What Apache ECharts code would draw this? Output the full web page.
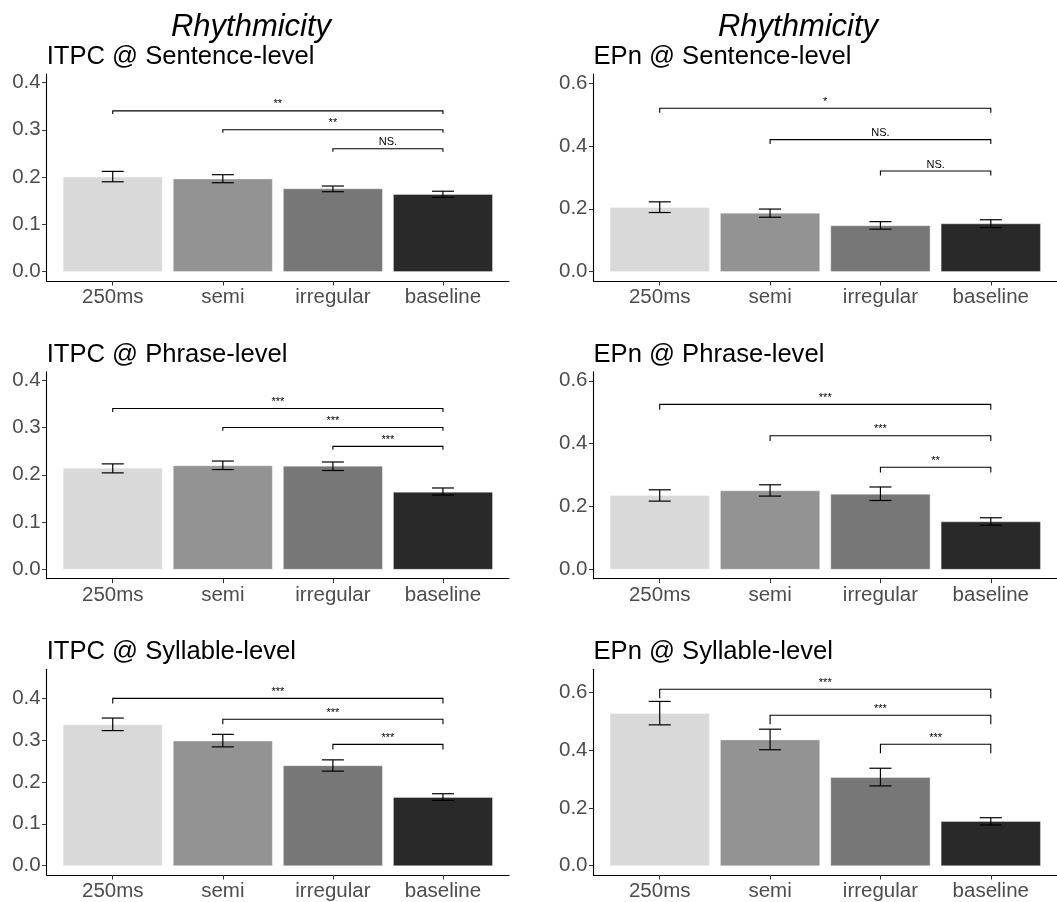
<!DOCTYPE html>
<html>
<head>
<meta charset="utf-8">
<script src="https://cdn.jsdelivr.net/npm/echarts@6/dist/echarts.min.js"></script>
<style>
  html, body { margin: 0; padding: 0; background: #fff; }
  #chart { width: 1057px; height: 902px; }
</style>
</head>
<body>
<div id="chart"></div>
<script>
// ---- data ----
const categories = ['250ms', 'semi', 'irregular', 'baseline'];
const barColors = ['#D9D9D9', '#939393', '#777777', '#292929'];

const itpcTicks = [0, 0.1, 0.2, 0.3, 0.4];
const epnTicks = [0, 0.2, 0.4, 0.6];

// ITPC @ Sentence-level
const itpcSentenceMean = [0.200, 0.196, 0.175, 0.163];
const itpcSentenceLow  = [0.190, 0.188, 0.169, 0.157];
const itpcSentenceHigh = [0.212, 0.205, 0.181, 0.170];
const itpcSentenceSig  = [[1, 4, 0.340, '**'], [2, 4, 0.300, '**'], [3, 4, 0.260, 'NS.']];

// EPn @ Sentence-level
const epnSentenceMean = [0.204, 0.186, 0.146, 0.152];
const epnSentenceLow  = [0.188, 0.173, 0.135, 0.140];
const epnSentenceHigh = [0.222, 0.199, 0.159, 0.165];
const epnSentenceSig  = [[1, 4, 0.520, '*'], [2, 4, 0.420, 'NS.'], [3, 4, 0.320, 'NS.']];

// ITPC @ Phrase-level
const itpcPhraseMean = [0.214, 0.219, 0.218, 0.163];
const itpcPhraseLow  = [0.204, 0.211, 0.209, 0.157];
const itpcPhraseHigh = [0.223, 0.229, 0.227, 0.172];
const itpcPhraseSig  = [[1, 4, 0.340, '***'], [2, 4, 0.300, '***'], [3, 4, 0.260, '***']];

// EPn @ Phrase-level
const epnPhraseMean = [0.235, 0.250, 0.239, 0.151];
const epnPhraseLow  = [0.217, 0.233, 0.219, 0.140];
const epnPhraseHigh = [0.253, 0.269, 0.262, 0.164];
const epnPhraseSig  = [[1, 4, 0.525, '***'], [2, 4, 0.425, '***'], [3, 4, 0.325, '**']];

// ITPC @ Syllable-level
const itpcSyllableMean = [0.337, 0.298, 0.239, 0.163];
const itpcSyllableLow  = [0.323, 0.284, 0.226, 0.156];
const itpcSyllableHigh = [0.353, 0.314, 0.253, 0.172];
const itpcSyllableSig  = [[1, 4, 0.400, '***'], [2, 4, 0.350, '***'], [3, 4, 0.290, '***']];

// EPn @ Syllable-level
const epnSyllableMean = [0.526, 0.435, 0.305, 0.153];
const epnSyllableLow  = [0.487, 0.401, 0.276, 0.141];
const epnSyllableHigh = [0.568, 0.472, 0.337, 0.166];
const epnSyllableSig  = [[1, 4, 0.610, '***'], [2, 4, 0.520, '***'], [3, 4, 0.420, '***']];

// ---- layout ----
const FONT = '"Liberation Sans", Arial, Helvetica, sans-serif';
const colLeft = [46.7, 593.5];
const colWidth = [462.3, 465.5];
const rowTop = [74, 371.7, 669.3];
const rowHeight = 207;
const headingX = [251, 798];

const panels = [
  { title: 'ITPC @ Sentence-level', mean: itpcSentenceMean, low: itpcSentenceLow, high: itpcSentenceHigh, sig: itpcSentenceSig, ticks: itpcTicks, yMin: -0.0199, yMax: 0.418, tip: 0.0065, col: 0, row: 0 },
  { title: 'EPn @ Sentence-level',  mean: epnSentenceMean,  low: epnSentenceLow,  high: epnSentenceHigh,  sig: epnSentenceSig,  ticks: epnTicks,  yMin: -0.030,  yMax: 0.629, tip: 0.014,  col: 1, row: 0 },
  { title: 'ITPC @ Phrase-level',   mean: itpcPhraseMean,   low: itpcPhraseLow,   high: itpcPhraseHigh,   sig: itpcPhraseSig,   ticks: itpcTicks, yMin: -0.0199, yMax: 0.418, tip: 0.007,  col: 0, row: 1 },
  { title: 'EPn @ Phrase-level',    mean: epnPhraseMean,    low: epnPhraseLow,    high: epnPhraseHigh,    sig: epnPhraseSig,    ticks: epnTicks,  yMin: -0.030,  yMax: 0.629, tip: 0.017,  col: 1, row: 1 },
  { title: 'ITPC @ Syllable-level', mean: itpcSyllableMean, low: itpcSyllableLow, high: itpcSyllableHigh, sig: itpcSyllableSig, ticks: itpcTicks, yMin: -0.0224, yMax: 0.4696, tip: 0.012, col: 0, row: 2 },
  { title: 'EPn @ Syllable-level',  mean: epnSyllableMean,  low: epnSyllableLow,  high: epnSyllableHigh,  sig: epnSyllableSig,  ticks: epnTicks,  yMin: -0.032,  yMax: 0.679, tip: 0.031,  col: 1, row: 2 }
];

const grids = [], xAxes = [], yAxes = [], series = [], graphics = [];

['Rhythmicity', 'Rhythmicity'].forEach((t, i) => {
  graphics.push({
    type: 'text', x: headingX[i], y: 12,
    style: { text: t, font: 'italic 31px ' + FONT, fill: '#000', textAlign: 'center', align: 'center', textVerticalAlign: 'top', verticalAlign: 'top' }
  });
});

panels.forEach((p, k) => {
  const left = colLeft[p.col], top = rowTop[p.row];
  grids.push({ left: left, top: top, width: colWidth[p.col], height: rowHeight, containLabel: false });

  graphics.push({
    type: 'text', x: left, y: top - 30,
    style: { text: p.title, font: '25.6px ' + FONT, fill: '#000', textAlign: 'left', align: 'left', textVerticalAlign: 'top', verticalAlign: 'top' }
  });

  xAxes.push({
    type: 'value', gridIndex: k, min: 0.4, max: 4.6,
    splitLine: { show: false },
    axisLine: { show: true, onZero: false, lineStyle: { color: '#000', width: 1.1 } },
    axisTick: { show: true, customValues: [1, 2, 3, 4], length: 4.5, lineStyle: { color: '#333', width: 1 } },
    axisLabel: {
      customValues: [1, 2, 3, 4],
      formatter: v => categories[Math.round(v) - 1],
      color: '#4D4D4D', fontSize: 20.5, fontFamily: FONT, margin: 6
    }
  });

  yAxes.push({
    type: 'value', gridIndex: k, min: p.yMin, max: p.yMax,
    splitLine: { show: false },
    axisLine: { show: true, onZero: false, lineStyle: { color: '#000', width: 1.1 } },
    axisTick: { show: true, customValues: p.ticks, length: 4.5, lineStyle: { color: '#333', width: 1 } },
    axisLabel: {
      customValues: p.ticks,
      formatter: v => v.toFixed(1),
      color: '#4D4D4D', fontSize: 20.5, fontFamily: FONT, margin: 6
    }
  });

  // bars
  series.push({
    type: 'custom', xAxisIndex: k, yAxisIndex: k, silent: true,
    data: p.mean.map((v, i) => [i + 1, v, i]),
    encode: { x: 0, y: 1 },
    renderItem: (params, api) => {
      const x = api.value(0), v = api.value(1);
      const tl = api.coord([x - 0.45, v]);
      const br = api.coord([x + 0.45, 0]);
      return {
        type: 'rect',
        shape: { x: tl[0], y: tl[1], width: br[0] - tl[0], height: br[1] - tl[1] },
        style: { fill: barColors[api.value(2)], stroke: 'rgba(255,255,255,0.35)', lineWidth: 1 }
      };
    }
  });

  // error bars
  series.push({
    type: 'custom', xAxisIndex: k, yAxisIndex: k, silent: true,
    data: p.mean.map((v, i) => [i + 1, p.low[i], p.high[i]]),
    encode: { x: 0, y: [1, 2] },
    renderItem: (params, api) => {
      const x = api.value(0);
      const lo = api.coord([x, api.value(1)]);
      const hi = api.coord([x, api.value(2)]);
      const half = (api.coord([x + 0.1, 0])[0] - api.coord([x - 0.1, 0])[0]) / 2;
      const st = { stroke: '#000', lineWidth: 1.2 };
      return {
        type: 'group', children: [
          { type: 'line', shape: { x1: lo[0], y1: lo[1], x2: hi[0], y2: hi[1] }, style: st },
          { type: 'line', shape: { x1: hi[0] - half, y1: hi[1], x2: hi[0] + half, y2: hi[1] }, style: st },
          { type: 'line', shape: { x1: lo[0] - half, y1: lo[1], x2: lo[0] + half, y2: lo[1] }, style: st }
        ]
      };
    }
  });

  // significance brackets
  series.push({
    type: 'custom', xAxisIndex: k, yAxisIndex: k, silent: true,
    data: p.sig.map(s => [s[0], s[1], s[2]]),
    encode: { x: [0, 1], y: 2 },
    renderItem: (params, api) => {
      const x1 = api.value(0), x2 = api.value(1), y = api.value(2);
      const a = api.coord([x1, y]), b = api.coord([x2, y]);
      const aTip = api.coord([x1, y - p.tip]), bTip = api.coord([x2, y - p.tip]);
      const label = p.sig[params.dataIndex][3];
      return {
        type: 'group', children: [
          { type: 'polyline', shape: { points: [aTip, a, b, bTip] }, style: { stroke: '#000', lineWidth: 1.1, fill: null } },
          { type: 'text', x: (a[0] + b[0]) / 2, y: a[1] - 1,
            style: { text: label, font: '11px ' + FONT, fill: '#000', textAlign: 'center', align: 'center', textVerticalAlign: 'bottom', verticalAlign: 'bottom' } }
        ]
      };
    }
  });
});

const chart = echarts.init(document.getElementById('chart'), null, { renderer: 'canvas' });
chart.setOption({
  backgroundColor: '#fff',
  animation: false,
  grid: grids,
  xAxis: xAxes,
  yAxis: yAxes,
  series: series,
  graphic: graphics
});
</script>
</body>
</html>
